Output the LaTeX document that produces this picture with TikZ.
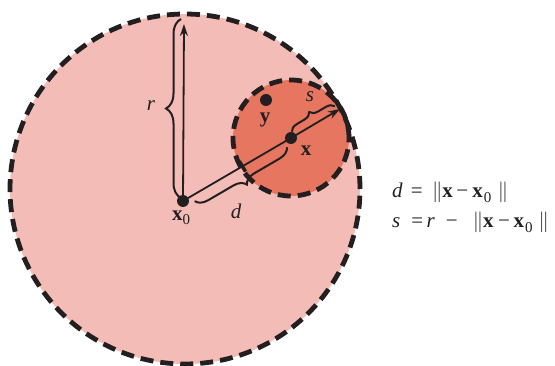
\documentclass[tikz,border=0pt]{standalone}
\usepackage{fontspec}
\setmainfont{Liberation Serif}
\usetikzlibrary{arrows.meta,decorations.pathreplacing,calc}
\definecolor{bigfill}{HTML}{F4BCB6}
\definecolor{smallfill}{HTML}{E6765F}
\definecolor{ink}{HTML}{231F20}
\newcommand{\subz}{\raisebox{-4.5pt}{\fontsize{15}{15}\selectfont 0}}
\begin{document}
\begin{tikzpicture}[x=1pt,y=-1pt,
  ring/.style={draw=ink,line width=4.8pt,dash pattern=on 13pt off 7pt},
  dot/.style={circle,fill=ink,inner sep=0pt,minimum size=12pt},
  lbl/.style={font=\fontsize{21}{23}\selectfont,inner sep=0pt,text=ink},
  ilbl/.style={font=\fontsize{21}{23}\selectfont\itshape,inner sep=0pt,text=ink},
  bracestyle/.style={draw=ink,line width=2pt,decorate,decoration={brace,amplitude=#1}},
  mbracestyle/.style={draw=ink,line width=2pt,decorate,decoration={brace,mirror,amplitude=#1}},
  arr/.style={draw=ink,line width=1.8pt,-{Stealth[length=12pt,width=8pt]}}]
\useasboundingbox (0,0) rectangle (555,366);
\coordinate (C) at (185,189);
\fill[bigfill] (C) circle[radius=175pt];
\coordinate (xs) at (291,138);
\fill[smallfill] (xs) circle[radius=58pt];
\draw[ring] (xs) circle[radius=58pt];
\draw[ring] (C) circle[radius=175pt];
% points
\node[dot] (x0) at (183,201) {};
\node[dot] (x) at (291,138) {};
\node[dot] (y) at (266,100) {};
\coordinate (rtop) at (184,24);
\coordinate (send) at (340,109);
% lines
\draw[arr] (x0.center) -- (rtop);
\draw[ink,line width=1.8pt] (x0.center) -- (x.center);
\draw[arr] (x.center) -- (send);
\coordinate (tk) at ($(x0)!0.55!(x)$);
\draw[ink,line width=3.5pt] ($(tk)!6pt!90:(x)$) -- ($(tk)!6pt!-90:(x)$);
% braces
\draw[bracestyle=15pt] (181,198) -- (181,19);
\coordinate (d1) at ($(x0)!10pt!(x)$);
\coordinate (d2) at ($(x)!8pt!(x0)$);
\draw[mbracestyle=12pt] ($(d1)!6pt!-90:(x)$) -- ($(d2)!6pt!90:(x0)$);
\coordinate (s1) at ($(x)!4pt!(send)$);
\coordinate (s2) at ($(send)!3pt!(x)$);
\draw[bracestyle=8pt] ($(s1)!5pt!90:(send)$) -- ($(s2)!5pt!-90:(x)$);
% labels
\node[ilbl] (rl) at (151,106) {r};
\node[ilbl] (dl) at (236,211) {d};
\node[ilbl] (sl) at (310,97) {s};
\node[lbl] (x0l) at (181,218) {\textbf{x}\subz};
\node[lbl] (yl) at (265,120) {\textbf{y}};
\node[lbl] (xl) at (306,151) {\textbf{x}};
% equations
\node[lbl,anchor=base west] (eq1) at (392,198) {\textit{d}\hspace{8pt}=\hspace{9.5pt}$\|$\textbf{x}\hspace{3.5pt}−\hspace{4pt}\textbf{x}\hspace{1pt}\subz\hspace{6.5pt}$\|$};
\node[lbl,anchor=base west] (eq2) at (392,228) {\textit{s}\hspace{11pt}=\hspace{3.5pt}\textit{r}\hspace{11pt}−\hspace{15pt}$\|$\textbf{x}\hspace{4.5pt}−\hspace{3.5pt}\textbf{x}\hspace{1pt}\subz\hspace{6pt}$\|$};
\end{tikzpicture}
\end{document}
